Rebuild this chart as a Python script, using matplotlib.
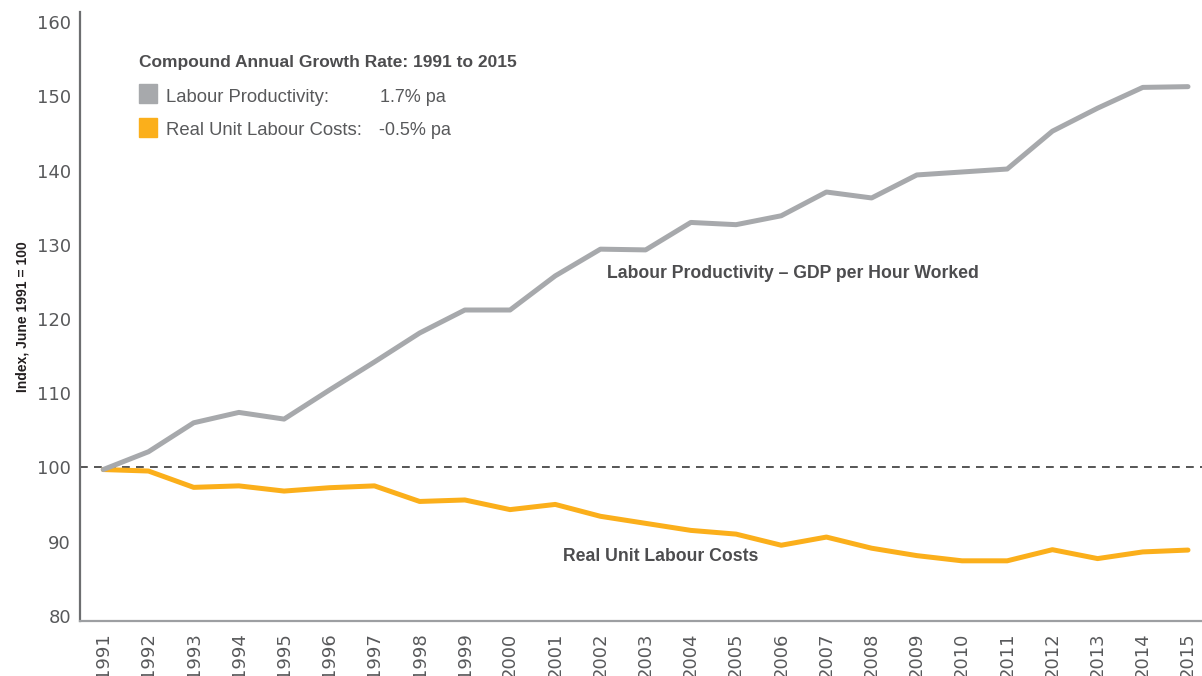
import numpy as np
import matplotlib.pyplot as plt
from matplotlib.patches import Rectangle
from matplotlib.transforms import ScaledTranslation

# index values, June 1991 = 100
years = list(range(1991, 2016))
productivity = [99.7, 102.1, 106.0, 107.4, 106.5, 110.4, 114.2, 118.1, 121.2, 121.2,
                125.8, 129.4, 129.3, 133.0, 132.7, 133.9, 137.1, 136.3, 139.4, 139.8,
                140.2, 145.3, 148.4, 151.2, 151.3]
unit_costs = [99.7, 99.5, 97.3, 97.5, 96.8, 97.25, 97.5, 95.4, 95.6, 94.3,
              95.0, 93.4, 92.45, 91.5, 91.0, 89.5, 90.6, 89.1, 88.1, 87.4,
              87.4, 88.9, 87.7, 88.6, 88.85]
yticks = [80, 90, 100, 110, 120, 130, 140, 150, 160]

GREY = '#a7a9ac'
ORANGE = '#fbaf1b'
TXT = '#58595b'
DARK = '#4d4d4f'

W, H = 1202, 676
fig = plt.figure(figsize=(W / 100, H / 100), dpi=100)
ax = fig.add_axes([80 / W, 1 - 620.7 / H, 1 - 80 / W, (620.7 - 12) / H])

ax.axhline(100, color='#555555', lw=1.4, ls=(0, (4, 3.2)), zorder=1)
ax.plot(years, unit_costs, color=ORANGE, lw=3.6, solid_capstyle='round', zorder=2)
ax.plot(years, productivity, color=GREY, lw=3.6, solid_capstyle='round', zorder=3)

ax.set_xlim(1990.485, 2015.31)
ax.set_ylim(79.33, 161.36)
ax.set_yticks(yticks)
ax.set_xticks(years)
ax.set_xticklabels([str(y) for y in years], rotation=90, va='top', ha='center')
off = ScaledTranslation(4 / 100, 0, fig.dpi_scale_trans)
for lab in ax.get_xticklabels():
    lab.set_transform(lab.get_transform() + off)

ax.tick_params(axis='both', length=0, labelsize=13, colors=TXT)
ax.tick_params(axis='y', pad=6.5)
ax.tick_params(axis='x', pad=8.5)

for s in ['top', 'right']:
    ax.spines[s].set_visible(False)
ax.spines['left'].set_color('#6d6e70')
ax.spines['left'].set_linewidth(1.6)
ax.spines['bottom'].set_color('#9d9fa2')
ax.spines['bottom'].set_linewidth(1.6)

ax.set_ylabel('Index, June 1991 = 100', fontsize=10, fontweight='bold',
              family='Liberation Sans', color='#231f20', labelpad=5)

# growth-rate key
def fx(px):
    return px / W

def fy(py):
    return 1 - py / H

fig.text(fx(139), fy(63), 'Compound Annual Growth Rate: 1991 to 2015', fontsize=12.5,
         fontweight='bold', family='Liberation Sans', color=DARK, va='center')
fig.patches.append(Rectangle((fx(139), fy(102.7)), 18.4 / W, 18.4 / H,
                             transform=fig.transFigure, color=GREY))
fig.patches.append(Rectangle((fx(139), fy(136.7)), 18.4 / W, 18.4 / H,
                             transform=fig.transFigure, color=ORANGE))
fig.text(fx(166), fy(97), 'Labour Productivity:', fontsize=13.3,
         family='Liberation Sans', color=TXT, va='center')
fig.text(fx(380), fy(97), '1.7% pa', fontsize=13,
         family='Liberation Sans', color=TXT, va='center')
fig.text(fx(166), fy(130.5), 'Real Unit Labour Costs:', fontsize=13.3,
         family='Liberation Sans', color=TXT, va='center')
fig.text(fx(379), fy(130.5), '-0.5% pa', fontsize=13,
         family='Liberation Sans', color=TXT, va='center')

# series labels
fig.text(fx(607), fy(273), 'Labour Productivity \u2013 GDP per Hour Worked', fontsize=12.7,
         fontweight='bold', family='Liberation Sans', color=DARK, va='center')
fig.text(fx(563), fy(556.5), 'Real Unit Labour Costs', fontsize=12.7,
         fontweight='bold', family='Liberation Sans', color=DARK, va='center')

fig.savefig('out.png', dpi=100)
